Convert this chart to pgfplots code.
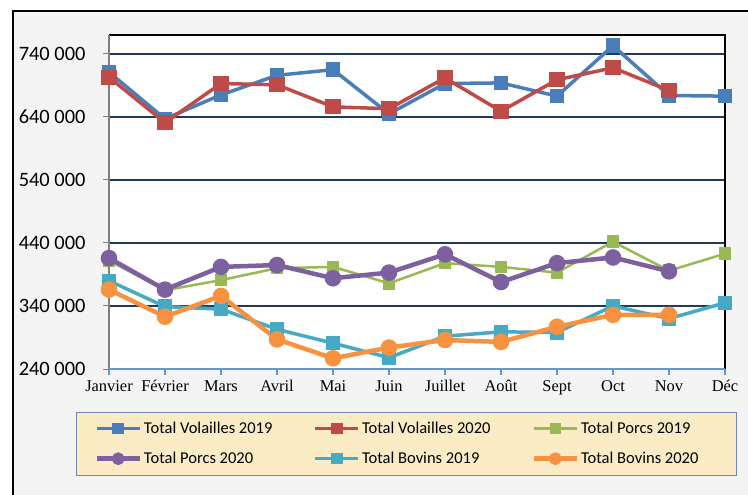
\documentclass[border=0pt]{standalone}
\usepackage{pgfplots}
\pgfplotsset{compat=1.18}
\usepackage{fontspec}
\setmainfont{Liberation Serif}
\newfontfamily\carlito{Carlito}
\definecolor{cVol19}{RGB}{74,126,187}
\definecolor{cVol20}{RGB}{190,75,72}
\definecolor{cP19}{RGB}{152,185,84}
\definecolor{cP20}{RGB}{125,96,160}
\definecolor{cB19}{RGB}{70,170,197}
\definecolor{cB20}{RGB}{246,146,64}
\definecolor{gridnavy}{RGB}{31,56,100}
\definecolor{axblue}{RGB}{100,150,210}
\definecolor{bggray}{RGB}{244,244,244}
\definecolor{legfill}{RGB}{251,236,198}
\definecolor{legdraw}{RGB}{110,140,180}
\begin{document}
\begin{tikzpicture}
\useasboundingbox (0,0) rectangle (748bp,-495bp);
\clip (0,0) rectangle (748bp,-495bp);
\fill[bggray] (13bp,-11bp) rectangle (760bp,-510bp);
\draw[black, line width=1.4bp] (13bp,-515bp) -- (13bp,-11bp) -- (760bp,-11bp);
\begin{axis}[
  at={(109bp,-369bp)}, anchor=south west,
  scale only axis, width=616bp, height=334bp,
  xmin=0, xmax=11, ymin=240000, ymax=770000,
  clip=false,
  axis background/.style={fill=white},
  axis line style={draw=none},
  xtick={0,...,11},
  xticklabels={Janvier,Février,Mars,Avril,Mai,Juin,Juillet,Août,Sept,Oct,Nov,Déc},
  ytick={240000,340000,440000,540000,640000,740000},
  yticklabels={240 000,340 000,440 000,540 000,640 000,740 000},
  scaled y ticks=false,
  tick pos=left, tick align=outside,
  major tick length=6bp,
  x tick style={axblue, line width=1.2bp},
  y tick style={gray, line width=1bp},
  xticklabel style={font=\fontsize{16.5}{19}\selectfont, yshift=-2bp},
  yticklabel style={font=\carlito\fontsize{20.5}{24}\selectfont, xshift=-14bp},
  ymajorgrids, grid style={gridnavy, line width=1.2bp},
  legend columns=3,
  legend cell align=left,
  legend style={at={(-0.0536,-0.128)}, anchor=north west,
    fill=legfill, draw=legdraw, line width=1bp,
    font=\carlito\fontsize{16.6}{19}\selectfont,
    inner xsep=18bp, inner ysep=8bp,
    /tikz/every even column/.append style={column sep=39bp},
    row sep=13bp},
  legend image code/.code={\draw[mark repeat=2,mark phase=2,mark size=4bp] plot coordinates {(0bp,0bp) (21.5bp,0bp) (43bp,0bp)};},
]
\addplot[cVol19, line width=3.5bp, mark=square*, mark size=5.5bp, mark options={solid}] coordinates {
(0,711000)(1,637000)(2,675000)(3,706000)(4,715000)(5,645000)(6,693000)(7,694000)(8,673000)(9,753000)(10,674000)(11,673000)};
\addlegendentry{Total Volailles 2019}
\addplot[cVol20, line width=3.5bp, mark=square*, mark size=5.8bp] coordinates {
(0,703000)(1,631000)(2,693000)(3,691000)(4,656000)(5,653000)(6,702000)(7,649000)(8,699000)(9,718000)(10,682000)};
\addlegendentry{Total Volailles 2020}
\addplot[cP19, line width=2.5bp, mark=square*, mark size=5bp] coordinates {
(0,412000)(1,365000)(2,381000)(3,400000)(4,402000)(5,376000)(6,408000)(7,402000)(8,393000)(9,442000)(10,396000)(11,423000)};
\addlegendentry{Total Porcs 2019}
\addplot[cP20, line width=4.5bp, mark=*, mark size=6bp] coordinates {
(0,416000)(1,366000)(2,402000)(3,405000)(4,384000)(5,393000)(6,422000)(7,378000)(8,408000)(9,417000)(10,395000)};
\addlegendentry{Total Porcs 2020}
\addplot[cB19, line width=3.5bp, mark=square*, mark size=5.5bp] coordinates {
(0,380000)(1,339000)(2,335000)(3,303000)(4,281000)(5,258000)(6,292000)(7,299000)(8,298000)(9,340000)(10,320000)(11,345000)};
\addlegendentry{Total Bovins 2019}
\addplot[cB20, line width=4.5bp, mark=*, mark size=6bp] coordinates {
(0,366000)(1,323000)(2,356000)(3,287000)(4,257000)(5,274000)(6,286000)(7,283000)(8,307000)(9,326000)(10,326000)};
\addlegendentry{Total Bovins 2020\hspace*{18bp}}
\draw[black, line width=1.5bp] (rel axis cs:0,1) -- (rel axis cs:1,1) -- (rel axis cs:1,0);
\draw[gray, line width=1.2bp] (rel axis cs:0,0) -- (rel axis cs:0,1);
\draw[axblue, line width=1.4bp] (rel axis cs:0,0) -- (rel axis cs:1,0);
\end{axis}
\end{tikzpicture}
\end{document}
